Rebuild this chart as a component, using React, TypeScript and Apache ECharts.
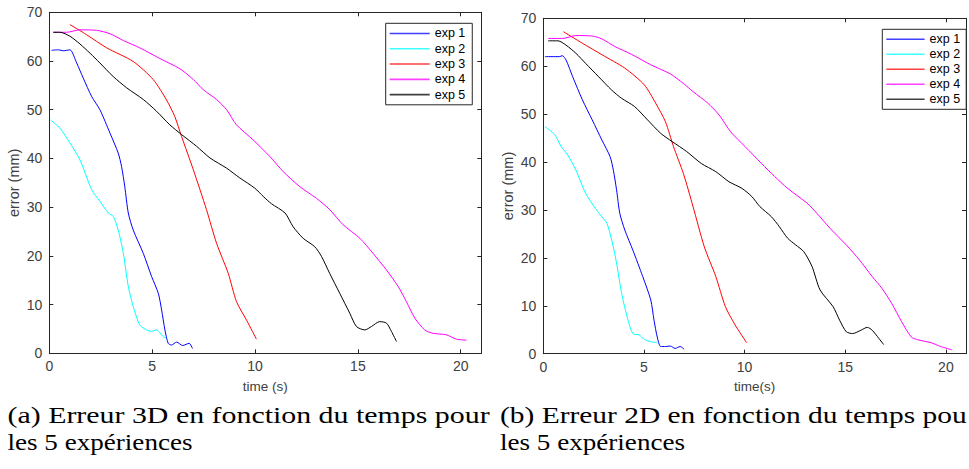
import React, { useEffect, useRef } from "react";
import * as echarts from "echarts";

// ---- Data (time s, error mm) ----
// (a) 3D error
const exp1_3d: number[][] = [[0.11,62.2],[0.44,62.3],[0.68,62.1],[1.0,62.3],[1.33,59.6],[1.65,56.5],[2.06,52.7],[2.46,50],[2.95,45.2],[3.35,41.1],[3.51,38.4],[3.67,34.2],[3.84,28.8],[4.08,25.3],[4.57,20.5],[4.97,15.8],[5.3,12.3],[5.46,8.9],[5.62,4.8],[5.78,2.05],[5.94,1.7],[6.19,2.3],[6.48,1.6],[6.8,2.05],[6.96,1.0]];
const exp2_3d: number[][] = [[0.06,47.9],[0.52,46.2],[1.0,43.2],[1.49,39.7],[2.06,33.6],[2.46,31.2],[2.87,28.8],[3.11,28.1],[3.35,25.3],[3.6,20.5],[3.84,13.7],[4.08,9.6],[4.4,5.8],[4.73,4.8],[4.97,4.5],[5.21,4.8],[5.54,3.4],[5.7,3.1]];
const exp3_3d: number[][] = [[1.0,67.5],[1.81,65.4],[2.79,62.7],[4.08,59.9],[5.05,56.2],[5.7,52.0],[6.1,48.6],[6.43,44.5],[7.0,37.7],[7.64,29.5],[8.13,22.6],[8.7,16.4],[9.1,10.6],[9.59,6.8],[10.07,2.9]];
const exp4_3d: number[][] = [[0.19,65.9],[0.84,65.9],[1.49,66.4],[2.3,66.3],[2.95,65.6],[3.6,64.2],[4.4,62.7],[5.38,60.5],[6.35,58.4],[7.0,56.2],[7.49,54.1],[8.13,52.1],[8.62,50],[9.1,46.9],[9.91,43.8],[10.72,40.4],[11.37,37.3],[12.18,34.2],[12.99,31.8],[13.63,29.5],[14.28,26.4],[15.1,23.6],[15.74,20.5],[16.39,17.1],[16.96,13.7],[17.36,10.6],[17.77,7.2],[18.25,4.8],[18.66,4.1],[19.3,3.8],[19.79,2.9],[20.28,2.7]];
const exp5_3d: number[][] = [[0.19,65.9],[0.52,65.9],[1.0,65.1],[1.49,63.5],[1.98,61.6],[2.46,59.6],[3.11,56.8],[3.76,54.5],[4.57,52.1],[5.21,49.7],[5.86,46.9],[6.43,44.9],[7.16,42.5],[7.81,40.1],[8.62,38.0],[9.26,36.0],[9.99,33.9],[10.4,32.2],[10.8,30.7],[11.46,28.8],[11.85,26.0],[12.34,23.6],[12.9,21.9],[13.23,19.9],[13.63,16.4],[14.12,12.3],[14.61,8.2],[14.93,5.5],[15.34,4.8],[15.66,5.5],[16.06,6.5],[16.39,6.2],[16.63,4.5],[16.88,2.4]];

// (b) 2D error
const exp1_2d: number[][] = [[0.08,62.0],[0.81,62.0],[0.94,62.2],[1.13,61.3],[1.46,57.8],[1.94,53.0],[2.43,48.8],[2.91,44.6],[3.32,41.1],[3.48,38.3],[3.64,34.2],[3.8,29.3],[4.05,25.8],[4.45,21.6],[4.94,16.1],[5.34,11.2],[5.5,7.0],[5.66,3.5],[5.83,1.5],[6.07,1.5],[6.31,1.6],[6.55,1.1],[6.8,1.5],[7.0,0.9]];
const exp2_2d: number[][] = [[0.08,47.4],[0.57,45.7],[0.89,43.2],[1.21,41.5],[1.62,38.3],[2.1,33.5],[2.59,30.3],[2.91,28.6],[3.16,27.2],[3.4,23.7],[3.64,18.9],[3.89,12.6],[4.21,7.0],[4.45,4.2],[4.77,3.9],[5.02,3.0],[5.34,2.5],[5.66,2.3]];
const exp3_2d: number[][] = [[1.0,67.2],[1.94,64.8],[2.91,62.4],[4.05,59.6],[5.02,56.1],[5.58,52.3],[6.07,48.4],[6.47,43.2],[6.96,37.6],[7.44,30.7],[8.0,22.3],[8.57,16.1],[9.05,9.8],[9.53,6.0],[10.1,2.3]];
const exp4_2d: number[][] = [[0.24,65.8],[0.97,65.8],[1.62,66.4],[2.43,66.3],[2.91,65.7],[3.56,64.1],[4.37,62.5],[5.34,60.3],[6.31,58.4],[6.96,56.4],[7.44,54.7],[8.17,52.3],[8.74,49.8],[9.31,46.3],[10.03,43.2],[10.84,39.7],[11.49,37.0],[12.14,34.5],[13.11,31.4],[13.59,29.3],[14.24,26.2],[15.05,22.7],[15.7,19.6],[16.34,16.1],[16.83,13.6],[17.31,10.5],[17.8,6.7],[18.28,3.5],[18.61,2.9],[19.26,2.3],[19.74,1.5],[20.31,0.8]];
const exp5_2d: number[][] = [[0.24,65.3],[0.73,65.3],[1.13,64.4],[1.62,62.7],[2.1,60.6],[2.75,57.8],[3.4,55.0],[3.89,53.3],[4.53,51.6],[5.18,48.8],[5.83,46.0],[6.39,44.3],[7.12,42.2],[7.85,39.7],[8.57,38.0],[9.22,35.9],[9.87,34.5],[10.36,32.8],[10.76,30.7],[11.33,28.6],[11.73,26.5],[12.14,24.1],[12.54,22.7],[12.94,21.3],[13.35,18.2],[13.75,13.3],[14.4,9.8],[14.72,7.0],[15.05,4.6],[15.37,4.2],[15.78,4.9],[16.1,5.5],[16.34,4.9],[16.67,3.2],[16.91,1.9]];

const seriesNames = ["exp 1", "exp 2", "exp 3", "exp 4", "exp 5"];
const seriesColors = ["#0000ff", "#00ffff", "#ff0000", "#ff00ff", "#000000"];
const data3d = [exp1_3d, exp2_3d, exp3_3d, exp4_3d, exp5_3d];
const data2d = [exp1_2d, exp2_2d, exp3_2d, exp4_2d, exp5_2d];

const xTitleA = "time (s)";
const xTitleB = "time(s)";
const yTitle = "error (mm)";
// the right caption is cut by the page edge in the reference after "pou"
const captionA = ["(a) Erreur 3D en fonction du temps pour", "les 5 expériences"];
const captionB = ["(b) Erreur 2D en fonction du temps pou", "les 5 expériences"];

const AX = "#262626";
const LABEL = "#404040";
const SANS = "Liberation Sans";
const SERIF = "Liberation Serif";
const CAP_SIZE = 23;

function measure(text: string, font: string): number {
  const c = document.createElement("canvas").getContext("2d");
  if (!c) return text.length * 10;
  c.font = font;
  return c.measureText(text).width;
}

export default function App() {
  const ref = useRef<HTMLDivElement>(null);
  useEffect(() => {
    document.body.style.margin = "0";
    if (!ref.current) return;
    const chart = echarts.init(ref.current, undefined, { renderer: "svg" });

    const grids = [
      { left: 49.3, top: 12.3, width: 432, height: 341 },
      { left: 543.3, top: 18.3, width: 433, height: 335.4 },
    ];
    const xTitles = [xTitleA, xTitleB];

    const xAxes: any[] = [];
    const yAxes: any[] = [];
    grids.forEach((_, gi) => {
      const base = {
        type: "value",
        gridIndex: gi,
        splitLine: { show: false },
        axisLine: { show: true, onZero: false, lineStyle: { color: AX, width: 1 } },
        axisTick: { show: true, inside: true, length: 4, lineStyle: { color: AX } },
      };
      xAxes.push({
        ...base,
        position: "bottom",
        min: 0, max: 21, interval: 5,
        axisLabel: {
          color: LABEL, fontFamily: SANS, fontSize: 14, margin: 6,
          formatter: (v: number) => (v % 5 === 0 ? String(v) : ""),
        },
        name: xTitles[gi], nameLocation: "middle", nameGap: 26,
        nameTextStyle: { color: LABEL, fontFamily: SANS, fontSize: 13.5 },
      });
      xAxes.push({ ...base, position: "top", min: 0, max: 21, interval: 5, axisLabel: { show: false } });
      yAxes.push({
        ...base,
        position: "left",
        min: 0, max: 70, interval: 10,
        axisLabel: { color: LABEL, fontFamily: SANS, fontSize: 14, margin: 7 },
        name: yTitle, nameLocation: "middle", nameGap: 28,
        nameTextStyle: { color: LABEL, fontFamily: SANS, fontSize: 14.5 },
      });
      yAxes.push({ ...base, position: "right", min: 0, max: 70, interval: 10, axisLabel: { show: false } });
    });

    const series: any[] = [];
    [data3d, data2d].forEach((set, gi) => {
      set.forEach((d, i) => {
        series.push({
          type: "line",
          name: seriesNames[i],
          xAxisIndex: gi * 2,
          yAxisIndex: gi * 2,
          data: d,
          smooth: 0.25,
          symbol: "none",
          showSymbol: false,
          color: seriesColors[i],
          lineStyle: { width: 1, color: seriesColors[i] },
        });
      });
    });

    const legendData = seriesNames.map((n, i) => ({
      name: n,
      icon: "rect",
      itemStyle: { color: seriesColors[i], borderWidth: 0, opacity: 0.75 },
    }));
    const legendBase = {
      orient: "vertical",
      icon: "rect",
      itemHeight: 1.6,
      itemGap: 0,
      borderColor: AX,
      borderWidth: 1,
      borderRadius: 0,
      backgroundColor: "#fff",
      selectedMode: false,
      data: legendData,
    };
    const legends = [
      {
        ...legendBase, left: 385.7, top: 23.3, itemWidth: 40, padding: [2.5, 7, 2.5, 4],
        textStyle: { fontSize: 12.5, color: "#000", fontFamily: SANS, lineHeight: 15.3 },
      },
      {
        ...legendBase, left: 882.3, top: 29.3, itemWidth: 38.3, padding: [2.5, 6, 2.5, 4],
        textStyle: { fontSize: 12.5, color: "#000", fontFamily: SANS, lineHeight: 15 },
      },
    ];

    const capFont = `${CAP_SIZE}px "${SERIF}"`;
    const capTargets = [
      { lines: captionA, x: 7.5, widths: [482.5, 185] },
      { lines: captionB, x: 500, widths: [467, 185] },
    ];
    const baselines = [423, 450];
    const graphic: any[] = [];
    capTargets.forEach((c) => {
      c.lines.forEach((t, li) => {
        const w = measure(t, capFont);
        const sx = c.widths[li] / w;
        graphic.push({
          type: "text",
          x: c.x,
          y: baselines[li] - 7.8,
          scaleX: sx,
          style: {
            text: t,
            fontFamily: SERIF,
            fontSize: CAP_SIZE,
            fill: "#000",
            align: "left",
            verticalAlign: "middle",
          },
        });
      });
    });

    chart.setOption({
      animation: false,
      backgroundColor: "#fff",
      grid: grids.map((g) => ({ ...g, containLabel: false })),
      xAxis: xAxes,
      yAxis: yAxes,
      legend: legends,
      series,
      graphic,
    });
    return () => chart.dispose();
  }, []);
  return <div ref={ref} style={{ width: 969, height: 469, position: "absolute", left: 0, top: 0, overflow: "hidden" }} />;
}
